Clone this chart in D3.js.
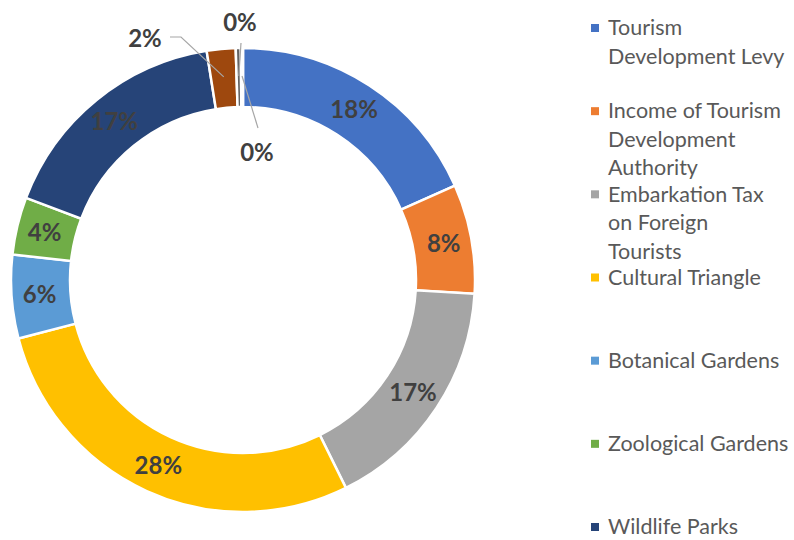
<!DOCTYPE html>
<meta charset="utf-8">
<script src="https://d3js.org/d3.v7.min.js"></script>
<style>
  body { margin: 0; background: #fff; }
</style>
<div id="my_dataviz"></div>
<script>

// data
var categories = ["Tourism Development Levy", "Income of Tourism Development Authority",
  "Embarkation Tax on Foreign Tourists", "Cultural Triangle", "Botanical Gardens",
  "Zoological Gardens", "Wildlife Parks", "Other 1", "Other 2", "Other 3"];
var values = [18.3, 7.6, 16.7, 28.2, 5.8, 4.0, 16.7, 2.0, 0.35, 0.15];
var labels = ["18%", "8%", "17%", "28%", "6%", "4%", "17%", "2%", "0%", "0%"];
var colors = ["#4472C4", "#ED7D31", "#A5A5A5", "#FFC000", "#5B9BD5",
  "#70AD47", "#264478", "#9E480E", "#636363", "#997300"];
// legend only shows the first seven entries, wrapped like the original
var legendLines = [
  ["Tourism", "Development Levy"],
  ["Income of Tourism", "Development", "Authority"],
  ["Embarkation Tax", "on Foreign", "Tourists"],
  ["Cultural Triangle"],
  ["Botanical Gardens"],
  ["Zoological Gardens"],
  ["Wildlife Parks"]
];

var width = 794, height = 540;
var cx = 243, cy = 280, outerR = 232, innerR = 173;
var font = "Lato, 'Open Sans', sans-serif";

var svg = d3.select("#my_dataviz")
  .append("svg")
    .attr("width", width)
    .attr("height", height);

var g = svg.append("g")
    .attr("transform", "translate(" + cx + "," + cy + ")");

var pie = d3.pie().sort(null).value(function(d) { return d; });
var arcs = pie(values);

var arc = d3.arc().innerRadius(innerR).outerRadius(outerR);
var labelArc = d3.arc().innerRadius(204).outerRadius(204);

g.selectAll("path")
  .data(arcs)
  .enter()
  .append("path")
    .attr("d", arc)
    .attr("fill", function(d, i) { return colors[i]; })
    .attr("stroke", "#fff")
    .attr("stroke-width", 2.5);

// labels inside the ring for the big slices
var inside = arcs.filter(function(d, i) { return i < 7; });
g.selectAll("text.lab")
  .data(inside)
  .enter()
  .append("text")
    .attr("class", "lab")
    .attr("transform", function(d) { return "translate(" + labelArc.centroid(d) + ")"; })
    .attr("text-anchor", "middle")
    .attr("dy", "0.36em")
    .style("font-family", font)
    .style("font-weight", "bold")
    .style("font-size", "24px")
    .style("fill", "#404040")
    .text(function(d) { return labels[d.index]; });

// small slices get leader lines
var callouts = [
  {i: 7, label: [-98, -242], path: [[-73, -243], [-62, -243]]},
  {i: 8, label: [-3, -258], path: [[-2, -237]]},
  {i: 9, label: [14, -128], path: [[15, -152]]}
];

callouts.forEach(function(c) {
  var anchor = labelArc.centroid(arcs[c.i]);
  var pts = c.i === 9 ? [anchor].concat(c.path) : c.path.concat([anchor]);
  g.append("path")
    .attr("d", d3.line()(pts))
    .attr("fill", "none")
    .attr("stroke", "#A6A6A6")
    .attr("stroke-width", 1.2);
  g.append("text")
    .attr("x", c.label[0])
    .attr("y", c.label[1])
    .attr("text-anchor", "middle")
    .attr("dy", "0.36em")
    .style("font-family", font)
    .style("font-weight", "bold")
    .style("font-size", "24px")
    .style("fill", "#404040")
    .text(labels[c.i]);
});

// legend
var legendY = d3.scaleLinear().domain([0, 6]).range([28, 527]);
var legend = svg.append("g");
legendLines.forEach(function(lines, i) {
  var y = legendY(i);
  legend.append("rect")
    .attr("x", 591)
    .attr("y", y - 4)
    .attr("width", 8)
    .attr("height", 8)
    .attr("fill", colors[i]);
  lines.forEach(function(t, j) {
    legend.append("text")
      .attr("x", 608)
      .attr("y", y + j * 28.5)
      .attr("dy", "0.34em")
      .style("font-family", font)
      .style("font-size", "21.5px")
      .style("fill", "#595959")
      .text(t);
  });
});

</script>
